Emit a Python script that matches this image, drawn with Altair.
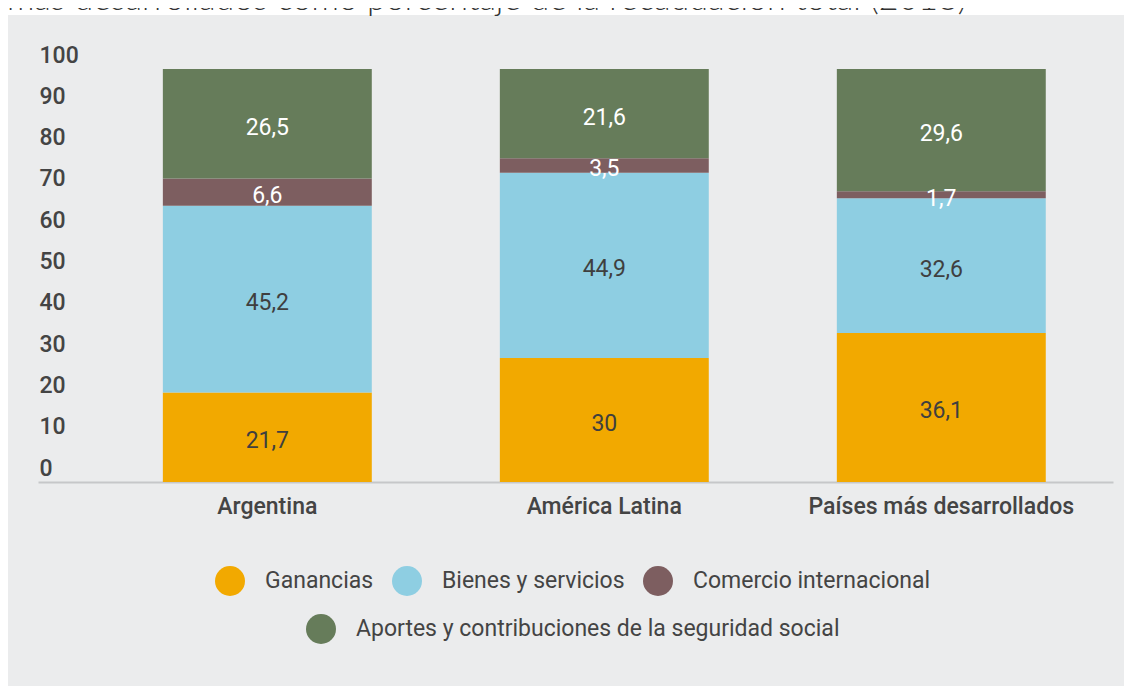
import altair as alt
import pandas as pd

regiones = ["Argentina", "América Latina", "Países más desarrollados"]
impuestos = ["Ganancias", "Bienes y servicios", "Comercio internacional",
             "Aportes y contribuciones de la seguridad social"]
ganancias = [21.7, 30.0, 36.1]
bienes = [45.2, 44.9, 32.6]
comercio = [6.6, 3.5, 1.7]
aportes = [26.5, 21.6, 29.6]
colores = ["#F2A900", "#8ECEE2", "#7D5E60", "#667C5A"]
colores_texto = ["#3F3F3F", "#3F3F3F", "#FFFFFF", "#FFFFFF"]
titulo = ["más desarrollados como porcentaje de la recaudación total (2018)"]
y_ticks = [0, 10, 20, 30, 40, 50, 60, 70, 80, 90, 100]

series = [ganancias, bienes, comercio, aportes]
rows = []
for k, (imp, vals) in enumerate(zip(impuestos, series)):
    for r, v in zip(regiones, vals):
        rows.append({"region": r, "impuesto": imp, "valor": v, "orden": k,
                     "tc": colores_texto[k]})
df = pd.DataFrame(rows)

FONT = "Roboto"
FONT_M = "Roboto Medium, Roboto"
LBL = "#444444"

x_enc = alt.X("region:N", sort=regiones,
              scale=alt.Scale(paddingInner=0.38, paddingOuter=0.285, align=0.65),
              axis=alt.Axis(title=None, ticks=False, labelAngle=0, labelPadding=13,
                            domainColor="#C6C7C9", domainWidth=2, labelLimit=1000,
                            labelFont=FONT_M, labelFontSize=23, labelFontWeight=500,
                            labelColor=LBL))
y_scale = alt.Scale(domain=[0, 100], nice=False)
y_axis = alt.Axis(title=None, domain=False, ticks=False, grid=False, values=y_ticks,
                  labelAlign="left", labelPadding=-1, labelOffset=-14,
                  labelBaseline="middle", labelOverlap=False,
                  labelFont=FONT_M, labelFontSize=23, labelFontWeight=500, labelColor=LBL)

base = alt.Chart(df).transform_stack(
    stack="valor", as_=["y0", "y1"], groupby=["region"],
    sort=[alt.SortField("orden", order="ascending")]
).transform_calculate(
    mid="(datum.y0 + datum.y1) / 2",
    etiqueta="replace(format(datum.valor, '.1~f'), '.', ',')"
)

legend_common = dict(title=None, orient="none", direction="horizontal",
                     symbolType="circle", symbolSize=900, symbolStrokeWidth=0,
                     labelFont=FONT, labelFontSize=23, labelColor=LBL,
                     labelOffset=20, columnPadding=18, padding=0, labelLimit=800)

bars_a = base.transform_filter("datum.orden < 3").mark_bar().encode(
    x=x_enc,
    y=alt.Y("y0:Q", scale=y_scale, axis=y_axis),
    y2="y1:Q",
    color=alt.Color("impuesto:N",
                    scale=alt.Scale(domain=impuestos[:3], range=colores[:3]),
                    legend=alt.Legend(legendX=177, legendY=497, **legend_common)),
)

bars_b = base.transform_filter("datum.orden == 3").mark_bar().encode(
    x=x_enc,
    y=alt.Y("y0:Q", scale=y_scale, axis=y_axis),
    y2="y1:Q",
    color=alt.Color("impuesto:N",
                    scale=alt.Scale(domain=impuestos[3:], range=colores[3:]),
                    legend=alt.Legend(legendX=268, legendY=545, **legend_common)),
)

labels = base.mark_text(font=FONT, fontSize=23, baseline="middle", dy=4).encode(
    x=x_enc,
    y=alt.Y("mid:Q", scale=y_scale, axis=y_axis),
    text="etiqueta:N",
    color=alt.Color("tc:N", scale=None),
)

strip = alt.Chart(pd.DataFrame({"t": titulo})).mark_rect(color="white").encode(
    x=alt.value(-30), x2=alt.value(1086), y=alt.value(-61), y2=alt.value(-54)
)
title_txt = alt.Chart(pd.DataFrame({"t": titulo})).mark_text(
    align="left", baseline="alphabetic", font="Lato", fontWeight=300,
    fontSize=34, color="#333333"
).encode(x=alt.value(-31), y=alt.value(-59), text="t:N")

chart = alt.layer(strip, title_txt, bars_a, bars_b, labels).resolve_scale(
    color="independent"
).properties(
    width=1075, height=413,
    padding={"left": 30, "top": 61, "right": 11, "bottom": 204},
    autosize=alt.AutoSizeParams(type="none"),
    background="#EBECED",
).configure_view(stroke=None)

chart.save("out.html", embed_options={"renderer": "svg", "actions": False})
